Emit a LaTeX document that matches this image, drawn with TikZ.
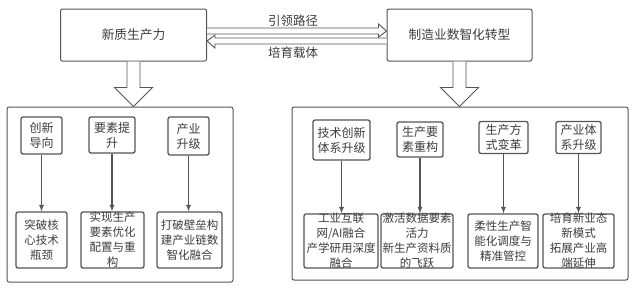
\documentclass[tikz,border=0pt]{standalone}
\usepackage{fontspec}
\setmainfont{Noto Sans CJK SC}
\usepackage{xcolor}
\usepackage{tikz}
\usetikzlibrary{calc}
\definecolor{linegray}{HTML}{555555}
\definecolor{textgray}{HTML}{3C3C3C}

\begin{document}
\begin{tikzpicture}[x=1pt, y=-1pt,
  mainbox/.style = {draw=linegray, line width=1pt, rounded corners=2pt, minimum width=146pt, minimum height=52pt, text=textgray, font=\fontsize{12.7}{15}\selectfont},
  panel/.style = {draw=linegray, line width=1pt, rounded corners=2pt, inner sep=0pt},
  headbox/.style = {draw=linegray, line width=1.3pt, rounded corners=2pt, align=center, text=textgray, inner xsep=1pt, inner ysep=1pt, font=\fontsize{12}{15}\selectfont},
  itembox/.style = {draw=linegray, line width=1.3pt, rounded corners=2pt, align=center, text=textgray, inner xsep=1pt, inner ysep=-3pt, font=\fontsize{11.5}{15}\selectfont},
  flow/.style = {draw=linegray, line width=1.2pt, -latex},
  hollow/.style = {draw=linegray, line width=0.9pt, fill=white, line join=miter},
  tag/.style = {text=textgray, font=\fontsize{12.5}{15}\selectfont}]
\useasboundingbox (0,0) rectangle (634,287);
% the two panels
\node[panel, minimum width=226pt, minimum height=175pt] (lpanel) at (120,194.5) {};
\node[panel, minimum width=336pt, minimum height=173pt] (rpanel) at (460,193.5) {};
% top boxes
\node[mainbox] (newprod) at (133.5,35) {新质生产力};
\node[mainbox, minimum width=145pt] (digital) at (459.5,35) {制造业数智化转型};
% hollow arrows between the top boxes
\draw[hollow] ([yshift=7pt]newprod.east) -- ([xshift=-8pt,yshift=7pt]digital.west) -- ([xshift=-8pt,yshift=11pt]digital.west)
  -- ([yshift=4pt]digital.west) -- ([xshift=-8pt,yshift=-2pt]digital.west) -- ([xshift=-8pt,yshift=1pt]digital.west) -- ([yshift=1pt]newprod.east);
\draw[hollow] ([yshift=-3pt]digital.west) -- ([xshift=8pt,yshift=-3pt]newprod.east) -- ([xshift=8pt,yshift=0pt]newprod.east)
  -- ([yshift=-6pt]newprod.east) -- ([xshift=8pt,yshift=-13pt]newprod.east) -- ([xshift=8pt,yshift=-9pt]newprod.east) -- ([yshift=-9pt]digital.west);
\node[tag] (lead) at (293,21) {引领路径};
\node[tag] (nurture) at (293,53) {培育载体};
% hollow arrows down to the panels
\draw[hollow] ([xshift=-6.5pt]newprod.south) -- ([xshift=-6.5pt,yshift=-26pt]newprod.south) -- ([xshift=-19pt,yshift=-26pt]newprod.south)
  -- (newprod.south |- lpanel.north) -- ([xshift=19pt,yshift=-26pt]newprod.south) -- ([xshift=6.5pt,yshift=-26pt]newprod.south) -- ([xshift=6.5pt]newprod.south);
\draw[hollow] ([xshift=-6.5pt]digital.south) -- ([xshift=-6.5pt,yshift=-26pt]digital.south) -- ([xshift=-19pt,yshift=-26pt]digital.south)
  -- (digital.south |- rpanel.north) -- ([xshift=19pt,yshift=-26pt]digital.south) -- ([xshift=6.5pt,yshift=-26pt]digital.south) -- ([xshift=6.5pt]digital.south);
% left panel
\node[headbox, minimum width=41pt, minimum height=37pt] (innov) at (41.5,135.5) {创新\\导向};
\node[headbox, minimum width=46pt, minimum height=36pt] (factor) at (112,135) {要素提\\升};
\node[headbox, minimum width=41pt, minimum height=38pt] (industry) at (188.5,136) {产业\\升级};
\node[itembox, minimum width=51pt, minimum height=56pt] (core) at (41.5,240) {突破核\\心技术\\瓶颈};
\node[itembox, minimum width=63pt, minimum height=56pt] (alloc) at (112.5,240) {实现生产\\要素优化\\配置与重\\构};
\node[itembox, minimum width=65pt, minimum height=56pt] (chain) at (189.5,240) {打破壁垒构\\建产业链数\\智化融合};
\draw[flow] (innov) -- (innov |- core.north);
\draw[flow] (factor) -- (factor |- alloc.north);
\draw[flow] (industry) -- (industry |- chain.north);
% right panel
\node[headbox, minimum width=57pt, minimum height=40pt] (techsys) at (341.5,140) {技术创新\\体系升级};
\node[headbox, minimum width=46pt, minimum height=35pt] (recon) at (420,139.5) {生产要\\素重构};
\node[headbox, minimum width=49pt, minimum height=32pt] (mode) at (503.5,137.5) {生产方\\式变革};
\node[headbox, minimum width=45pt, minimum height=32pt] (indsys) at (578.5,137.5) {产业体\\系升级};
\node[itembox, minimum width=74pt, minimum height=54pt] (iiot) at (341,241) {工业互联\\网/AI融合\\产学研用深度\\融合};
\node[itembox, minimum width=72pt, minimum height=54pt] (data) at (417,241) {激活数据要素\\活力\\新生产资料质\\的飞跃};
\node[itembox, minimum width=70pt, minimum height=54pt] (flex) at (503,241) {柔性生产智\\能化调度与\\精准管控};
\node[itembox, minimum width=71pt, minimum height=54pt] (newbiz) at (578.5,241) {培育新业态\\新模式\\拓展产业高\\端延伸};
\draw[flow] (techsys) -- (techsys |- iiot.north);
\draw[flow] (recon) -- (recon |- data.north);
\draw[flow] (mode) -- (mode |- flex.north);
\draw[flow] (indsys) -- (indsys |- newbiz.north);
\end{tikzpicture}
\end{document}
